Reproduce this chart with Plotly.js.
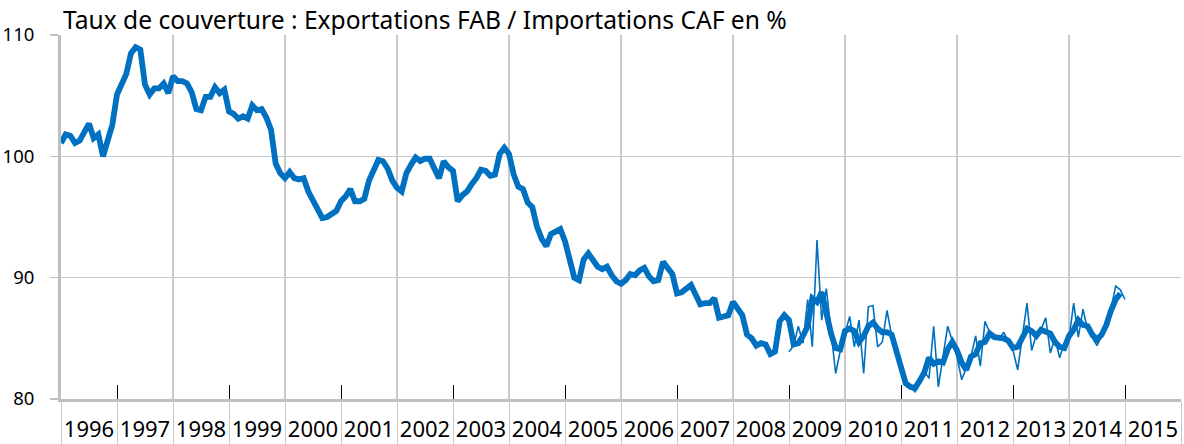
<!DOCTYPE html>
<html>
<head>
<meta charset="utf-8">
<script src="https://cdn.plot.ly/plotly-3.0.1.min.js"></script>
<style>html,body{margin:0;padding:0;background:#fff;}#chart{width:1184px;height:444px;}</style>
</head>
<body>
<div id="chart"></div>
<script>
// Monthly series, starting January 1996
const startYear = 1996;
const yearLabels = ["1996","1997","1998","1999","2000","2001","2002","2003","2004","2005","2006","2007","2008","2009","2010","2011","2012","2013","2014","2015"];

// Thick line (smoothed coverage ratio, %), Jan 1996 - Dec 2014
const smoothed = [
  101.1,101.8,101.7,101.1,101.3,102.0,102.7,101.5,101.8,100.0,101.5,102.6,
  105.1,105.9,106.8,108.5,109.0,108.8,105.9,105.1,105.6,105.6,106.0,105.2,
  106.6,106.2,106.2,106.0,105.3,103.9,103.8,104.9,104.9,105.7,105.2,105.5,
  103.7,103.5,103.1,103.3,103.1,104.2,103.8,103.9,103.2,102.2,99.4,98.6,
  98.2,98.7,98.2,98.1,98.2,97.1,96.3,95.5,94.9,95.0,95.2,95.5,
  96.3,96.7,97.3,96.3,96.3,96.5,98.0,98.8,99.7,99.6,99.0,98.0,
  97.4,97.1,98.6,99.3,99.9,99.6,99.8,99.8,99.1,98.2,99.6,99.1,
  98.8,96.3,96.8,97.1,97.7,98.2,98.9,98.8,98.4,98.5,100.2,100.7,
  100.2,98.5,97.5,97.3,96.2,95.8,94.2,93.2,92.6,93.6,93.8,94.0,
  93.0,91.7,90.0,89.8,91.5,92.0,91.4,90.9,90.7,90.9,90.2,89.7,
  89.5,89.8,90.3,90.2,90.6,90.8,90.1,89.7,89.8,91.3,90.8,90.3,
  88.7,88.8,89.1,89.4,88.6,87.8,87.9,87.9,88.3,86.7,86.8,86.9,
  88.0,87.5,86.9,85.3,85.0,84.4,84.6,84.5,83.7,83.9,86.4,86.9,
  86.5,84.5,84.6,85.2,86.0,88.3,88.0,88.8,86.8,85.4,84.2,84.1,
  85.6,85.8,85.6,84.7,85.2,86.0,86.3,85.8,85.5,85.5,85.3,84.0,
  82.5,81.3,81.0,80.9,81.5,82.2,83.4,82.9,83.1,83.0,84.1,84.7,
  84.0,83.0,82.4,83.5,83.7,84.6,84.7,85.4,85.1,85.1,85.0,84.8,
  84.2,84.3,85.2,85.8,85.6,85.2,85.7,85.6,85.4,84.7,84.3,84.2,
  85.2,85.7,86.5,86.1,86.0,85.3,84.9,85.3,86.1,87.3,88.2,88.7
];

// Thin line (monthly raw ratio, %), Jan 2009 - Jan 2015
const monthlyStartIndex = 156;
const monthly = [
  83.9,84.4,86.0,84.6,88.2,84.3,93.1,86.5,89.1,85.5,82.1,84.0,
  85.5,86.8,84.3,86.5,82.1,87.6,87.7,84.3,84.7,87.3,85.2,84.0,
  82.5,81.3,81.0,80.6,81.5,82.3,81.7,86.0,81.0,83.5,86.0,84.8,
  83.5,81.6,82.6,83.5,85.2,82.7,86.4,85.5,85.3,84.9,85.5,84.7,
  84.0,82.4,85.0,87.9,84.0,85.3,85.7,86.7,83.8,85.0,83.4,84.6,
  85.0,87.9,85.1,87.4,85.7,85.0,84.4,85.2,86.0,87.4,89.3,89.0,
  88.2
];

const xSmoothed = smoothed.map((_, i) => startYear + i / 12);
const xMonthly = monthly.map((_, i) => startYear + (monthlyStartIndex + i) / 12);

const evenYears = [], oddYears = [], midYears = [];
for (let y = 1996; y <= 2016; y += 2) evenYears.push(y);
for (let y = 1997; y <= 2015; y += 2) oddYears.push(y);
yearLabels.forEach(l => midYears.push(+l + 0.5));

const blue = '#0070C0';
const grid = '#c9c9c9';
const font = 'Noto Sans, Lato, sans-serif';

const data = [
  {x: xSmoothed, y: smoothed, type: 'scatter', mode: 'lines',
   line: {color: blue, width: 5.8}, hoverinfo: 'skip', showlegend: false},
  {x: xMonthly, y: monthly, type: 'scatter', mode: 'lines',
   line: {color: blue, width: 1.6}, hoverinfo: 'skip', showlegend: false},
  {x: [], y: [], xaxis: 'x2', yaxis: 'y', type: 'scatter', showlegend: false},
  {x: [], y: [], xaxis: 'x3', yaxis: 'y', type: 'scatter', showlegend: false}
];

const layout = {
  width: 1184, height: 444,
  margin: {l: 61, r: 3, t: 35, b: 45},
  paper_bgcolor: '#fff', plot_bgcolor: '#fff',
  font: {family: font, color: '#000'},
  showlegend: false,
  xaxis: {
    range: [1996, 2016], tickmode: 'array', tickvals: evenYears,
    showgrid: true, gridcolor: grid, gridwidth: 1.5,
    ticks: 'outside', ticklen: 45, tickwidth: 1, tickcolor: grid,
    showticklabels: false, showline: true, linecolor: '#bfbfbf', linewidth: 3,
    zeroline: false, fixedrange: true,
    minor: {tickmode: 'array', tickvals: oddYears, ticks: 'outside', ticklen: 45,
            tickwidth: 1, tickcolor: grid, showgrid: false}
  },
  xaxis2: {
    overlaying: 'x', anchor: 'y', range: [1996, 2016], tickmode: 'array', tickvals: oddYears,
    ticks: 'inside', ticklen: 14, tickwidth: 1, tickcolor: '#000',
    showticklabels: false, showgrid: false, showline: false, zeroline: false
  },
  xaxis3: {
    overlaying: 'x', anchor: 'y', range: [1996, 2016], tickmode: 'array',
    tickvals: midYears, ticktext: yearLabels, ticks: '',
    showgrid: false, showline: false, zeroline: false,
    tickfont: {size: 22, color: '#000', family: font}, ticklabelstandoff: 15
  },
  yaxis: {
    range: [80, 110], tickmode: 'array', tickvals: [80, 90, 100, 110],
    showgrid: true, gridcolor: grid, gridwidth: 1.5,
    ticks: 'outside', ticklen: 8, tickwidth: 1.5, tickcolor: '#bfbfbf',
    showline: true, linecolor: '#bfbfbf', linewidth: 3, zeroline: false,
    tickfont: {size: 18.5, color: '#000', family: font}, ticklabelstandoff: 12
  },
  annotations: [{
    text: 'Taux de couverture : Exportations FAB / Importations CAF en %',
    xref: 'paper', yref: 'paper', x: 0, y: 1, xanchor: 'left', yanchor: 'bottom',
    xshift: 0, yshift: -3, showarrow: false,
    font: {size: 24.6, color: '#000', family: font}
  }]
};

Plotly.newPlot('chart', data, layout, {staticPlot: true, displayModeBar: false});
</script>
</body>
</html>
